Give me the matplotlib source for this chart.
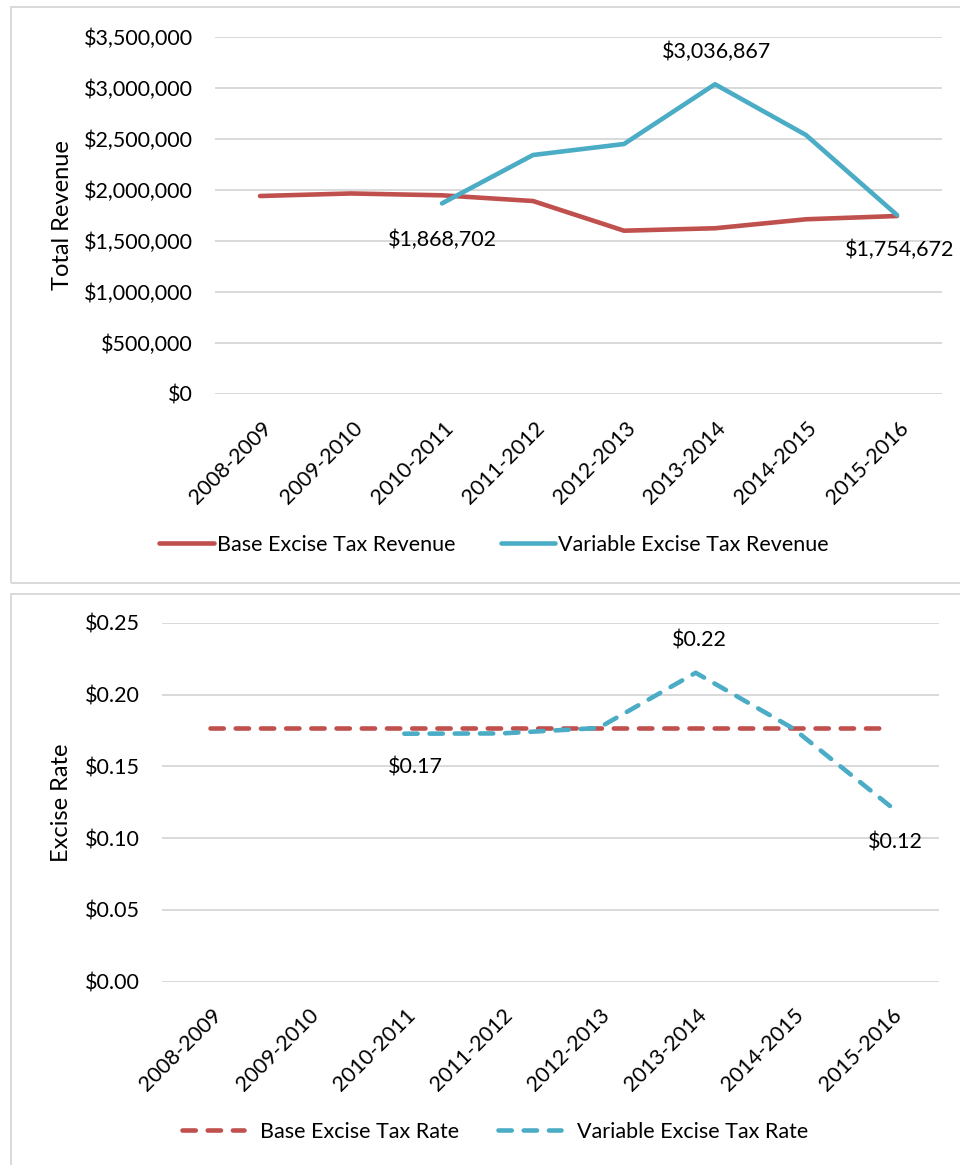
import matplotlib
matplotlib.use("Agg")
import matplotlib.pyplot as plt
from matplotlib.patches import Rectangle
from matplotlib.ticker import FuncFormatter, MultipleLocator
import matplotlib.transforms as mtransforms

plt.rcParams['font.family'] = ['Lato', 'DejaVu Sans']

years = ["2008-2009", "2009-2010", "2010-2011", "2011-2012",
         "2012-2013", "2013-2014", "2014-2015", "2015-2016"]
base_revenue = [1941000, 1966000, 1948000, 1892000, 1601000, 1625000, 1713000, 1745000]
var_years = years[2:]
var_revenue = [1868702, 2343000, 2451000, 3036867, 2539000, 1754672]
base_rate = [0.177] * 8
var_rate = [0.1728, 0.1730, 0.1768, 0.2153, 0.1766, 0.1224]

RED = "#C0504D"
BLUE = "#4BACC6"
GRID = "#D9D9D9"
FS = 15.5

W, H = 960, 1165
fig = plt.figure(figsize=(W / 100, H / 100), dpi=100)

def fx(px):
    return px / W

def fy(py):
    return 1 - py / H

# panel borders
fig.patches.append(Rectangle((fx(11), fy(583)), fx(960), fy(7) - fy(583),
                             transform=fig.transFigure, fill=False,
                             edgecolor=GRID, linewidth=1.4))
fig.patches.append(Rectangle((fx(11), fy(1170)), fx(960), fy(594) - fy(1170),
                             transform=fig.transFigure, fill=False,
                             edgecolor=GRID, linewidth=1.4))
# clipped title remnant
fig.text(fx(32), fy(-3.5), "g", fontsize=16, fontweight='bold', va='baseline', ha='left')

x = list(range(len(years)))
xv = x[2:]

def style(ax, ylabel, left_px, width_px):
    for s in ax.spines.values():
        s.set_visible(False)
    ax.grid(axis='y', color=GRID, linewidth=1.4)
    ax.set_axisbelow(True)
    ax.tick_params(axis='both', length=0, labelsize=FS)
    ax.tick_params(axis='y', pad=15.5)
    ax.tick_params(axis='x', pad=17)
    ax.set_xlim(-0.5, len(years) - 0.5)
    ax.set_xticks(x)
    ax.set_xticklabels(years, rotation=45, ha='right', va='top', rotation_mode='anchor')
    off = mtransforms.ScaledTranslation(1 / 100, 0, fig.dpi_scale_trans)
    for lab in ax.get_xticklabels():
        lab.set_transform(lab.get_transform() + off)
    ax.set_ylabel(ylabel, fontsize=17, va='center')
    ax.yaxis.set_label_coords((62 - left_px) / width_px, 0.5)

# Top chart
L1, R1 = 214.5, 942.5
ax1 = fig.add_axes([fx(L1), fy(394), fx(R1) - fx(L1), fy(37) - fy(394)])
l1, = ax1.plot(x, base_revenue, color=RED, linewidth=3.3, solid_capstyle='round',
               solid_joinstyle='round', label="Base Excise Tax Revenue")
l2, = ax1.plot(xv, var_revenue, color=BLUE, linewidth=3.3, solid_capstyle='round',
               solid_joinstyle='round', label="Variable Excise Tax Revenue")
ax1.set_ylim(0, 3500000)
ax1.yaxis.set_major_locator(MultipleLocator(500000))
ax1.yaxis.set_major_formatter(FuncFormatter(lambda v, p: "${:,.0f}".format(v)))
style(ax1, "Total Revenue", L1, R1 - L1)

lab_offsets1 = {0: (0, -36), 3: (2, 32), 5: (3, -35)}
for i, (dx, dy) in lab_offsets1.items():
    ax1.annotate("${:,.0f}".format(var_revenue[i]), (xv[i], var_revenue[i]),
                 xytext=(dx, dy), textcoords='offset pixels',
                 ha='center', va='center', fontsize=FS)

fig.legend(handles=[l1, l2], loc='center', bbox_to_anchor=(fx(494), fy(545)),
           frameon=False, ncol=2, fontsize=FS, handlelength=2.55,
           handletextpad=0.12, columnspacing=2.1, borderpad=0)

# Bottom chart
L2, R2 = 161.5, 938.5
ax2 = fig.add_axes([fx(L2), fy(981.5), fx(R2) - fx(L2), fy(623) - fy(981.5)])
l3, = ax2.plot(x, base_rate, color=RED, linewidth=3.3, linestyle=(0, (2.9, 2.6)),
               dash_capstyle='round', label="Base Excise Tax Rate")
l4, = ax2.plot(xv, var_rate, color=BLUE, linewidth=3.3, linestyle=(0, (2.9, 2.6)),
               dash_capstyle='round', dash_joinstyle='round', label="Variable Excise Tax Rate")
ax2.set_ylim(0, 0.25)
ax2.yaxis.set_major_locator(MultipleLocator(0.05))
ax2.yaxis.set_major_formatter(FuncFormatter(lambda v, p: "${:.2f}".format(v)))
style(ax2, "Excise Rate", L2, R2 - L2)

lab_offsets2 = {0: (11, -34), 3: (4, 32), 5: (5, -37)}
for i, (dx, dy) in lab_offsets2.items():
    ax2.annotate("${:.2f}".format(var_rate[i]), (xv[i], var_rate[i]),
                 xytext=(dx, dy), textcoords='offset pixels',
                 ha='center', va='center', fontsize=FS)

fig.legend(handles=[l3, l4], loc='center', bbox_to_anchor=(fx(495), fy(1132)),
           frameon=False, ncol=2, fontsize=FS, handlelength=2.9,
           handletextpad=0.75, columnspacing=1.8, borderpad=0)

fig.savefig("out.png", dpi=100)
